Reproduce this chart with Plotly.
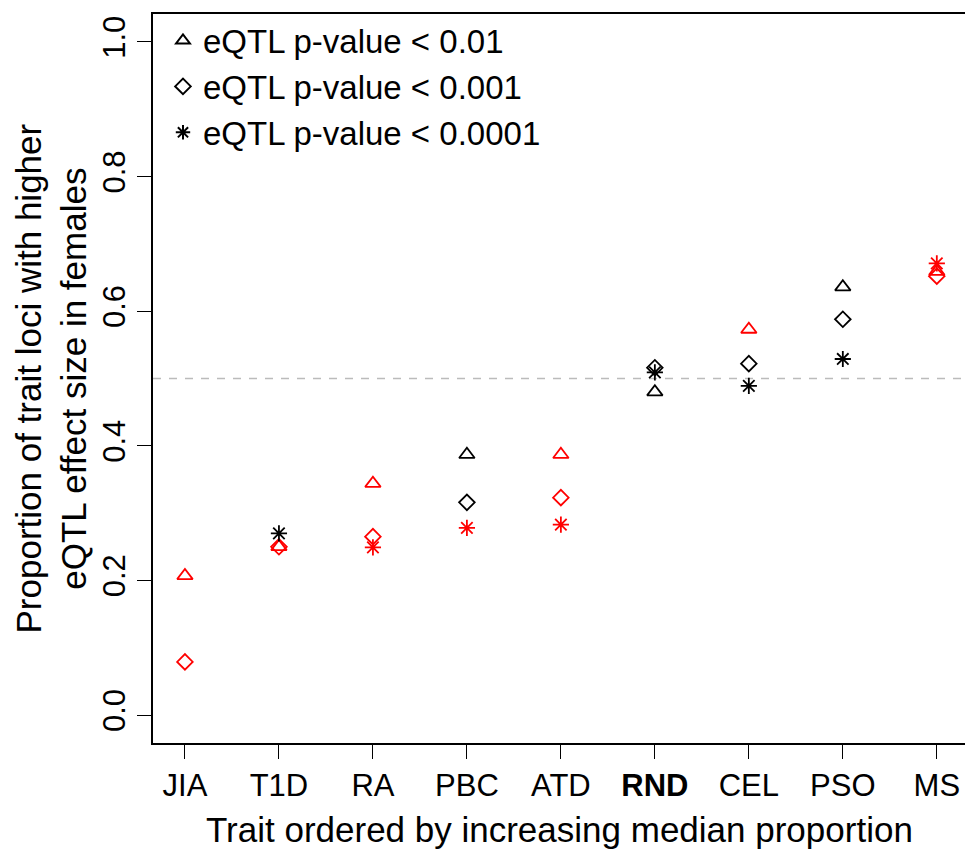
import plotly.graph_objects as go

# Traits, ordered by increasing median proportion
traits = ["JIA", "T1D", "RA", "PBC", "ATD", "RND", "CEL", "PSO", "MS"]
tick_text = ["JIA", "T1D", "RA", "PBC", "ATD", "<b>RND</b>", "CEL", "PSO", "MS"]

# Proportion of trait loci with higher eQTL effect size in females,
# one list per eQTL p-value threshold (None = no loci at that threshold)
prop_p01 = [0.207, 0.250, 0.344, 0.387, 0.387, 0.480, 0.573, 0.636, 0.659]
prop_p001 = [0.079, 0.250, 0.265, 0.316, 0.323, 0.516, 0.522, 0.588, 0.652]
prop_p0001 = [None, 0.270, 0.249, 0.278, 0.283, 0.509, 0.489, 0.529, 0.671]

# 1 = significant difference from the random (RND) background
sig_p01 = [1, 1, 1, 0, 1, 0, 1, 0, 1]
sig_p001 = [1, 1, 1, 0, 1, 0, 0, 0, 1]
sig_p0001 = [0, 0, 1, 1, 1, 0, 0, 0, 1]

series = [
    ("eQTL p-value < 0.01", prop_p01, sig_p01, "triangle-up-open", 13.5),
    ("eQTL p-value < 0.001", prop_p001, sig_p001, "diamond-open", 12),
    ("eQTL p-value < 0.0001", prop_p0001, sig_p0001, "asterisk-open", 13.5),
]

x_pos = list(range(1, len(traits) + 1))
FONT = "Liberation Sans, Arial, Helvetica, sans-serif"

fig = go.Figure()

for name, vals, sig, symbol, size in series:
    colors = ["red" if s else "black" for s in sig]
    fig.add_trace(go.Scatter(
        x=x_pos, y=vals, mode="markers", showlegend=False,
        marker=dict(symbol=symbol, size=size, color=colors,
                    line=dict(width=1.8, color=colors)),
    ))

# legend entries (black symbols)
for name, vals, sig, symbol, size in series:
    fig.add_trace(go.Scatter(
        x=[None], y=[None], mode="markers", name=name,
        marker=dict(symbol=symbol, size=12, color="black",
                    line=dict(width=1.4, color="black")),
    ))

# reference line at 0.5
fig.add_shape(type="line", xref="paper", x0=0, x1=1, yref="y", y0=0.5, y1=0.5,
              line=dict(color="#bbbbbb", width=1.5, dash="8px,8px"), layer="below")

fig.add_annotation(
    text="Proportion of trait loci with higher<br>eQTL effect size in females",
    xref="paper", yref="paper", x=0, y=0.5, xshift=-102, textangle=-90,
    showarrow=False, font=dict(family=FONT, size=35, color="black"),
    xanchor="center", yanchor="middle",
)
fig.add_annotation(
    text="Trait ordered by increasing median proportion",
    xref="paper", yref="paper", x=0.5, y=0, yshift=-86,
    showarrow=False, font=dict(family=FONT, size=35, color="black"),
    xanchor="center", yanchor="middle",
)

fig.update_layout(
    width=965, height=850,
    margin=dict(l=153, r=0, t=14, b=107),
    plot_bgcolor="white", paper_bgcolor="white",
    font=dict(family=FONT, size=31, color="black"),
    showlegend=True,
    legend=dict(x=0.0123, y=1.002, xanchor="left", yanchor="top",
                bgcolor="rgba(0,0,0,0)", font=dict(size=33),
                itemsizing="constant", tracegroupgap=0),
    xaxis=dict(
        range=[0.66, 9.3], tickmode="array", tickvals=x_pos, ticktext=tick_text,
        showgrid=False, zeroline=False, showline=True, linecolor="black",
        linewidth=1.5, mirror=True, ticks="outside", ticklen=14, tickwidth=1.3,
        tickcolor="black", tickfont=dict(size=31),
    ),
    yaxis=dict(
        range=[-0.0415, 1.0415], tickmode="array",
        tickvals=[0, 0.2, 0.4, 0.6, 0.8, 1.0],
        ticktext=["0.0", "0.2", "0.4", "0.6", "0.8", "1.0"],
        tickangle=-90, showgrid=False, zeroline=False, showline=True,
        linecolor="black", linewidth=1.5, mirror=False, ticks="outside",
        ticklen=14, tickwidth=1.3, tickcolor="black", tickfont=dict(size=31),
    ),
)

fig.write_html("out.html")
